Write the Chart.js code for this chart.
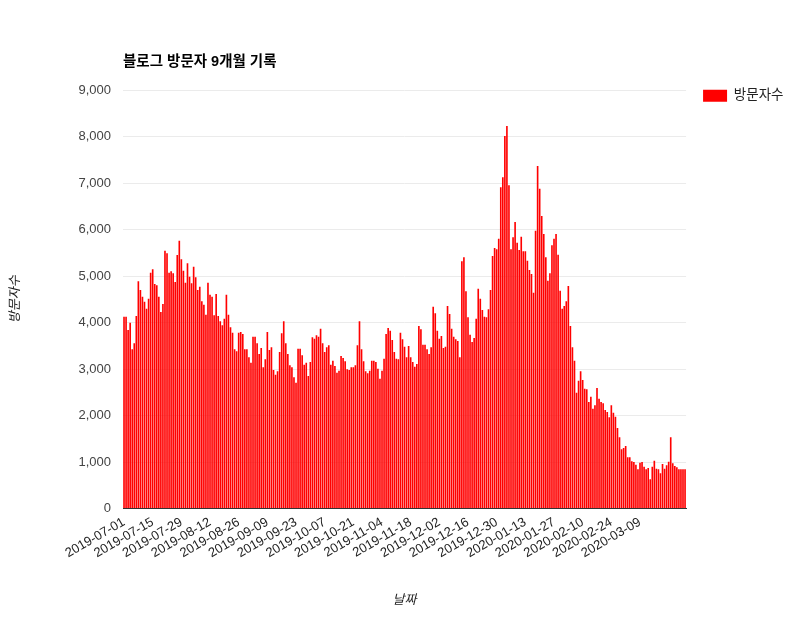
<!DOCTYPE html>
<html>
<head>
<meta charset="utf-8">
<script src="https://cdn.jsdelivr.net/npm/chart.js@4.4.0/dist/chart.umd.min.js"></script>
<style>
  html, body { margin: 0; padding: 0; background: #fff; }
  #wrap { width: 800px; height: 632px; }
</style>
</head>
<body>
<div id="wrap"><canvas id="myChart" width="800" height="632"></canvas></div>
<script>
// 일별 방문자수 (2019-07-01 ~ 2020-03-31)
const startDate = '2019-07-01';
const visitorsJulAug = [
  4125, 4125, 3840, 3995, 3423, 3553, 4140, 4886, 4700, 4555, 4447, 4297, 4512, 5071, 5144, 4828,
  4800, 4555, 4226, 4398, 5544, 5487, 5071, 5100, 5058, 4871,
  5450, 5760, 5358, 5114, 4857, 5272, 4986, 4843, 5200, 4971, 4700, 4770, 4455, 4383, 4168, 4857,
  4598, 4555, 4155, 4613, 4140, 4026, 3940, 4082, 4598, 4168, 3897, 3781, 3424
];
const visitorsSepOct = [
  3381, 3781, 3796, 3753, 3424, 3424, 3252, 3136, 3695, 3695, 3553, 3323, 3452, 3037, 3209, 3796,
  3409, 3467, 2978, 2878, 2950, 3366, 3767, 4026, 3553, 3323, 3080, 3037,
  2821, 2706, 3437, 3437, 3294, 3093, 3136, 2849, 3151, 3681, 3652, 3724, 3695, 3867, 3553, 3366,
  3467, 3509, 3093, 3179, 3065, 2921, 2964, 3280, 3237, 3165, 2993
];
const visitorsNovDec = [
  2978, 3037, 3037, 3080, 3509, 4026, 3424, 3165, 2950, 2907, 2964, 3179, 3179, 3151, 3007, 2792,
  2964, 3222, 3753, 3882, 3824, 3624, 3366, 3222, 3209, 3781, 3638, 3480, 3252,
  3495, 3251, 3151, 3050, 3108, 3925, 3853, 3523, 3523, 3423, 3323, 3466, 4340, 4198, 3824, 3652,
  3710, 3452, 3480, 4355, 4183, 3867, 3695, 3638, 3600, 3251, 5316, 5402, 4670, 4111
];
const visitorsDecJan = [
  3738, 3581, 3667, 4082, 4727, 4512, 4269, 4125, 4112, 4283, 4699, 5430, 5602, 5574, 5803, 6908,
  7123, 8011, 8226, 6951, 5574, 5832, 6161, 5717, 5559, 5846, 5531, 5531,
  5330, 5129, 5043, 4641, 5975, 7366, 6878, 6290, 5903, 5402, 4899, 5058, 5660, 5803, 5903, 5458,
  4684, 4297, 4355, 4456, 4785, 3925, 3466, 3179, 2490, 2749, 2950, 2763
];
const visitorsFebMar = [
  2577, 2563, 2290, 2405, 2147, 2219, 2591, 2362, 2290, 2262, 2118, 2075, 1961, 2219, 2061, 1975,
  1731, 1531, 1273, 1301, 1344, 1101, 1101, 1015, 1000, 942, 843, 985,
  1000, 899, 843, 871, 628, 899, 1028, 856, 843, 757, 957, 856, 929, 1007, 1531, 971,
  914, 886, 843, 843, 843, 843
];
const visitors = [].concat(visitorsJulAug, visitorsSepOct, visitorsNovDec, visitorsDecJan, visitorsFebMar);

const tickLabels = [
  '2019-07-01', '2019-07-15', '2019-07-29', '2019-08-12', '2019-08-26', '2019-09-09', '2019-09-23',
  '2019-10-07', '2019-10-21', '2019-11-04', '2019-11-18', '2019-12-02', '2019-12-16', '2019-12-30',
  '2020-01-13', '2020-01-27', '2020-02-10', '2020-02-24', '2020-03-09'
];
const yTicks = [0, 1000, 2000, 3000, 4000, 5000, 6000, 7000, 8000, 9000];

function makeDays(start, n) {
  const out = [];
  const d = new Date(start + 'T00:00:00Z');
  for (let i = 0; i < n; i++) {
    out.push(d.toISOString().slice(0, 10));
    d.setUTCDate(d.getUTCDate() + 1);
  }
  return out;
}
const days = makeDays(startDate, visitors.length);

const FONT = "'Liberation Sans', Arial, 'Noto Sans CJK KR', sans-serif";

const ctx = document.getElementById('myChart').getContext('2d');
const chart = new Chart(ctx, {
  type: 'bar',
  data: {
    labels: days,
    datasets: [{
      label: '방문자수',
      data: visitors,
      backgroundColor: '#ff0000',
      borderWidth: 0,
      barPercentage: 0.8,
      categoryPercentage: 1
    }]
  },
  options: {
    responsive: false,
    animation: false,
    layout: { padding: { left: 0, right: 6.5, top: 0, bottom: 0 } },
    plugins: {
      title: {
        display: true,
        text: '블로그 방문자 9개월 기록',
        align: 'start',
        fullSize: false,
        color: '#000',
        font: { family: FONT, size: 14.5, weight: 'bold' },
        padding: { top: 53, bottom: 19.6 }
      },
      legend: {
        position: 'right',
        align: 'start',
        title: { display: true, text: ' ', padding: { top: 57.6, bottom: 0 } },
        labels: {
          boxWidth: 24,
          boxHeight: 12,
          padding: 17,
          color: '#222',
          font: { family: FONT, size: 13.5 }
        }
      },
      tooltip: { enabled: false }
    },
    scales: {
      x: {
        grid: { display: false, drawTicks: false },
        border: { color: '#333' },
        ticks: {
          autoSkip: false,
          minRotation: 30,
          maxRotation: 30,
          padding: 6,
          color: '#222',
          font: { family: FONT, size: 13 },
          callback: function (v) {
            const l = this.getLabelForValue(v);
            return tickLabels.includes(l) ? l : '';
          }
        },
        title: {
          display: true,
          text: '날짜',
          color: '#222',
          font: { family: FONT, size: 13, style: 'italic' },
          padding: { top: 4, bottom: 24 }
        },
        afterFit: s => { s.height = 123.5; }
      },
      y: {
        min: 0,
        max: 9000,
        afterBuildTicks: s => { s.ticks = yTicks.map(v => ({ value: v })); },
        grid: { color: '#ebebeb', drawTicks: false },
        border: { display: false },
        ticks: {
          padding: 12,
          color: '#444',
          font: { family: FONT, size: 13 },
          callback: v => v.toLocaleString('en-US')
        },
        title: {
          display: true,
          text: '방문자수',
          color: '#222',
          font: { family: FONT, size: 13, style: 'italic' },
          padding: { top: 8 }
        },
        afterFit: s => { s.width = 123; }
      }
    }
  }
});
</script>
</body>
</html>
